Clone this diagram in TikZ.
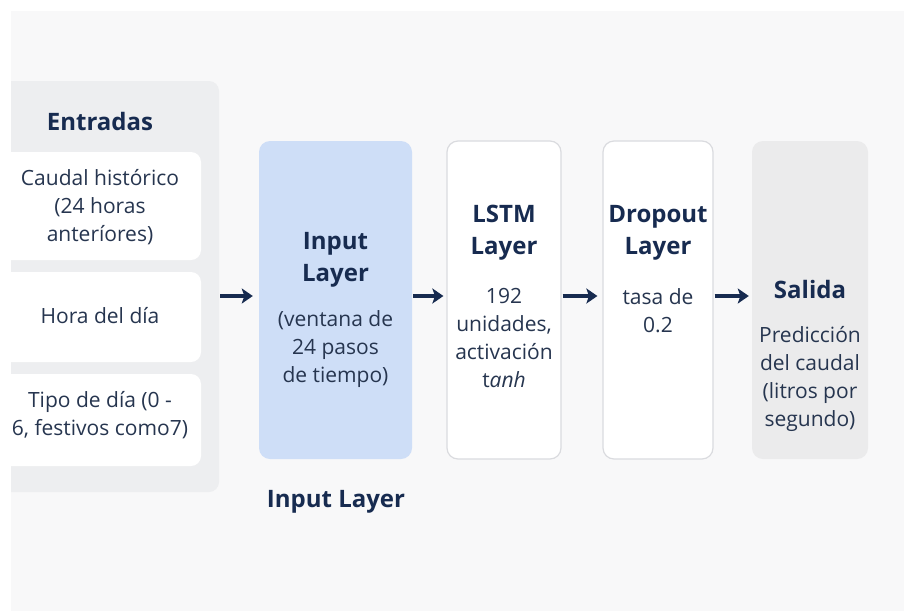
\documentclass[tikz,border=0pt]{standalone}
\usepackage{fontspec}
\setmainfont{Open Sans}
\usetikzlibrary{arrows.meta}

\definecolor{navy}{HTML}{172B50}
\definecolor{ink}{HTML}{26354F}
\definecolor{bgpanel}{HTML}{F8F8F9}
\definecolor{sidegray}{HTML}{EDEEF0}
\definecolor{inblue}{HTML}{CEDEF7}
\definecolor{edgegray}{HTML}{DADBDF}
\definecolor{outgray}{HTML}{EBEBEC}

\begin{document}
\begin{tikzpicture}[x=1pt,y=-1pt,
  lay/.style={rectangle,rounded corners=11pt,minimum width=#1,minimum height=318pt,inner sep=0pt},
  feat/.style={rectangle,rounded corners=10pt,fill=white,minimum width=211pt,inner sep=0pt},
  hd/.style={align=center,inner sep=0pt,text=navy,font=\fontsize{24}{32}\selectfont\bfseries},
  txt/.style={align=center,inner sep=0pt,text=ink,font=\fontsize{21}{28}\selectfont},
  flow/.style={-{Stealth[length=11pt,width=15pt,inset=2.5pt]},line width=3.2pt,draw=navy,shorten <=1pt}]

\fill[white] (0,0) rectangle (904,611);
\fill[bgpanel] (11,11) rectangle (904,611);

% inputs column
\begin{scope}
\clip (11,0) rectangle (904,611);
\node[rectangle,rounded corners=10pt,fill=sidegray,minimum width=229pt,minimum height=411pt,inner sep=0pt] (ent) at (104.5,286.5) {};
\node[feat,minimum height=108pt] (f1) at (95.5,206) {};
\node[feat,minimum height=90pt]  (f2) at (95.5,317) {};
\node[feat,minimum height=92pt]  (f3) at (95.5,420) {};
\end{scope}

\node[hd]  (enth) at (100,121) {Entradas};
\node[txt] (f1t)  at (100,207) {Caudal histórico\\(24 horas\\anteríores)};
\node[txt] (f2t)  at (100,316) {Hora del día};
\node[txt] (f3t)  at (100,415) {Tipo de día (0 -\\6, festivos como7)};

% layers
\node[lay=153pt,fill=inblue] (in) at (335.5,300) {};
\node[lay=114pt,fill=white,draw=edgegray,line width=1.2pt] (lstm) at (504,300) {};
\node[lay=110pt,fill=white,draw=edgegray,line width=1.2pt] (drop) at (658,300) {};
\node[lay=116pt,fill=outgray] (out) at (810,300) {};

\node[hd]  (inh)   at (335.5,260) {Input\\Layer};
\node[txt] (int)   at (335.5,349) {(ventana de\\24 pasos\\de tiempo)};
\node[hd]  (lstmh) at (504,233)   {LSTM\\Layer};
\node[txt] (lstmt) at (504,337.5) {192\\unidades,\\activación\\t\textit{anh}};
\node[hd]  (droph) at (658,232.5) {Dropout\\Layer};
\node[txt] (dropt) at (658,310.5) {tasa de\\0.2};
\node[hd]  (outh)  at (810,289)   {Salida};
\node[txt] (outt)  at (810,379)   {Predicción\\del caudal\\(litros por\\segundo)};

\node[hd] (incap) at (336,502) {Input Layer};

\draw[flow,shorten >=6pt] ([yshift=4pt]ent.east |- in.west) -- ([yshift=4pt]in.west);
\draw[flow,shorten >=3pt] ([yshift=4pt]in.east)   -- ([yshift=4pt]lstm.west);
\draw[flow,shorten >=5pt] ([yshift=4pt]lstm.east) -- ([yshift=4pt]drop.west);
\draw[flow,shorten >=3pt] ([yshift=4pt]drop.east) -- ([yshift=4pt]out.west);
\end{tikzpicture}
\end{document}
